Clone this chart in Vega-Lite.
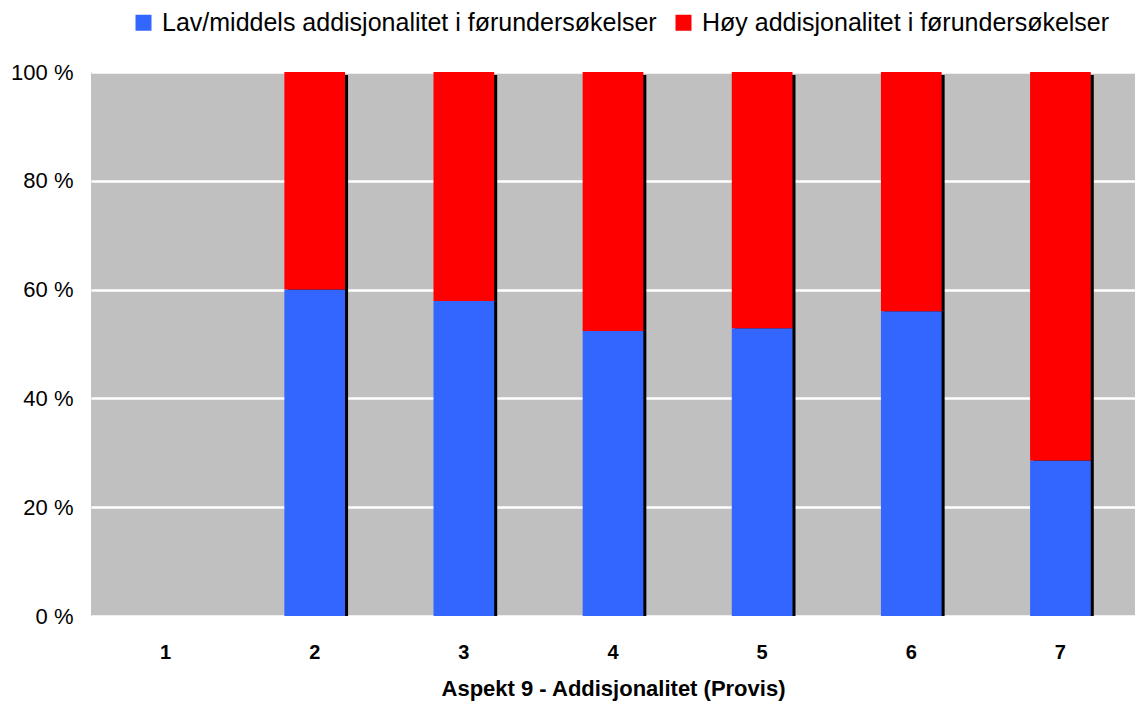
{
  "$schema": "https://vega.github.io/schema/vega-lite/v6.json",
  "width": 1044,
  "height": 544,
  "autosize": {"type": "none"},
  "padding": {"left": 91, "top": 72, "right": 0, "bottom": 86},
  "background": "white",
  "config": {
    "font": "Liberation Sans",
    "view": {"fill": "#C0C0C0", "stroke": null}
  },
  "datasets": {
    "main": [
      {"aspekt": "2", "serie": "Lav/middels addisjonalitet i førundersøkelser", "ord": 0, "verdi": 60.0},
      {"aspekt": "2", "serie": "Høy addisjonalitet i førundersøkelser", "ord": 1, "verdi": 40.0},
      {"aspekt": "3", "serie": "Lav/middels addisjonalitet i førundersøkelser", "ord": 0, "verdi": 57.9},
      {"aspekt": "3", "serie": "Høy addisjonalitet i førundersøkelser", "ord": 1, "verdi": 42.1},
      {"aspekt": "4", "serie": "Lav/middels addisjonalitet i førundersøkelser", "ord": 0, "verdi": 52.4},
      {"aspekt": "4", "serie": "Høy addisjonalitet i førundersøkelser", "ord": 1, "verdi": 47.6},
      {"aspekt": "5", "serie": "Lav/middels addisjonalitet i førundersøkelser", "ord": 0, "verdi": 52.9},
      {"aspekt": "5", "serie": "Høy addisjonalitet i førundersøkelser", "ord": 1, "verdi": 47.1},
      {"aspekt": "6", "serie": "Lav/middels addisjonalitet i førundersøkelser", "ord": 0, "verdi": 56.0},
      {"aspekt": "6", "serie": "Høy addisjonalitet i førundersøkelser", "ord": 1, "verdi": 44.0},
      {"aspekt": "7", "serie": "Lav/middels addisjonalitet i førundersøkelser", "ord": 0, "verdi": 28.6},
      {"aspekt": "7", "serie": "Høy addisjonalitet i førundersøkelser", "ord": 1, "verdi": 71.4}
    ]
  },
  "data": {"name": "main"},
  "encoding": {
    "x": {
      "field": "aspekt",
      "type": "nominal",
      "scale": {"domain": ["1", "2", "3", "4", "5", "6", "7"], "paddingInner": 0.593, "paddingOuter": 0.2965},
      "axis": {
        "title": "Aspekt 9 - Addisjonalitet (Provis)",
        "titleFont": "Liberation Sans",
        "titleFontSize": 22,
        "titleFontWeight": "bold",
        "titleColor": "black",
        "titlePadding": 16,
        "labelAngle": 0,
        "labelFontSize": 20,
        "labelFontWeight": "bold",
        "labelColor": "black",
        "labelPadding": 26,
        "ticks": false,
        "domain": false,
        "grid": false
      }
    }
  },
  "layer": [
    {
      "mark": {"type": "bar", "color": "black", "xOffset": 3, "yOffset": 3, "y2Offset": 0},
      "encoding": {
        "y": {"aggregate": "sum", "field": "verdi", "type": "quantitative", "scale": {"domain": [0, 100]}}
      }
    },
    {
      "mark": {"type": "bar"},
      "encoding": {
        "y": {
          "field": "verdi",
          "type": "quantitative",
          "stack": "zero",
          "scale": {"domain": [0, 100]},
          "axis": {
            "title": null,
            "values": [0, 20, 40, 60, 80, 100],
            "labelExpr": "datum.value + ' %'",
            "labelFontSize": 22,
            "labelColor": "black",
            "labelPadding": 18,
            "ticks": false,
            "domain": false,
            "grid": true,
            "gridColor": "white",
            "gridWidth": 2.5
          }
        },
        "order": {"field": "ord", "type": "quantitative"},
        "color": {
          "field": "serie",
          "type": "nominal",
          "scale": {
            "domain": ["Lav/middels addisjonalitet i førundersøkelser", "Høy addisjonalitet i førundersøkelser"],
            "range": ["#3366FF", "#FF0000"]
          },
          "legend": {
            "title": null,
            "orient": "none",
            "legendX": 40,
            "legendY": -62,
            "direction": "horizontal",
            "symbolType": "square",
            "symbolSize": 256,
            "symbolStrokeWidth": 0,
            "labelFontSize": 25,
            "labelColor": "black",
            "labelLimit": 0,
            "labelOffset": 6,
            "columnPadding": 14
          }
        }
      }
    }
  ]
}
